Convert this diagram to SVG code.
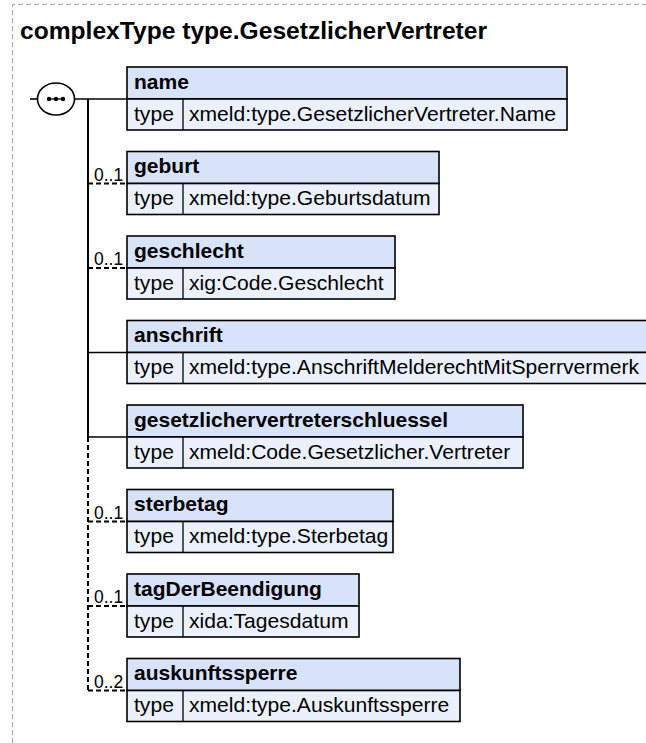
<svg xmlns="http://www.w3.org/2000/svg" width="646" height="743" viewBox="0 0 646 743">
<style>
.frame{fill:none;stroke:#a6a6a6;stroke-width:1;stroke-dasharray:5,3}
.title{font-family:"Liberation Sans",Arial,sans-serif;font-weight:bold;font-size:24.6px;fill:#000}
.hd{fill:#d6e3f8;stroke:#000;stroke-width:1.6}
.bd{fill:#eaf1fc;stroke:#000;stroke-width:1.6}
.div{stroke:#000;stroke-width:1.3;fill:none}
.nm{font-family:"Liberation Sans",Arial,sans-serif;font-weight:bold;font-size:21px;fill:#000}
.tx{font-family:"Liberation Sans",Arial,sans-serif;font-size:21.1px;fill:#000}
.occ{font-family:"Liberation Sans",Arial,sans-serif;font-size:17.5px;fill:#000}
.ln{stroke:#000;stroke-width:1.6;fill:none}
.dl{stroke:#000;stroke-width:2;fill:none;stroke-dasharray:5,3}
</style>
<rect x="0" y="0" width="646" height="743" fill="#fff"/>
<path class="frame" d="M12.5,743 V4.5 H646"/>
<text class="title" x="20" y="39">complexType type.GesetzlicherVertreter</text>

<g id="connectors">
<line class="ln" x1="30" y1="99" x2="38" y2="99"/>
<line class="ln" x1="74" y1="99" x2="127" y2="99"/>
<line x1="88" y1="99" x2="88" y2="437" stroke="#000" stroke-width="2"/>
<line class="dl" x1="88" y1="437" x2="88" y2="690.5"/>
<line class="dl" x1="88" y1="183.5" x2="127" y2="183.5"/>
<line class="dl" x1="88" y1="268" x2="127" y2="268"/>
<line class="ln" x1="88" y1="352.5" x2="127" y2="352.5"/>
<line class="ln" x1="88" y1="437" x2="127" y2="437"/>
<line class="dl" x1="88" y1="521.5" x2="127" y2="521.5"/>
<line class="dl" x1="88" y1="606" x2="127" y2="606"/>
<line class="dl" x1="88" y1="690.5" x2="127" y2="690.5"/>
<text class="occ" x="94" y="180.5">0..1</text>
<text class="occ" x="94" y="265">0..1</text>
<text class="occ" x="94" y="518.5">0..1</text>
<text class="occ" x="94" y="603">0..1</text>
<text class="occ" x="94" y="687.5">0..2</text>
</g>

<g id="sequence">
<ellipse cx="56" cy="99" rx="18.5" ry="16" fill="#fff" stroke="#000" stroke-width="1.6"/>
<line x1="47" y1="99" x2="65" y2="99" stroke="#000" stroke-width="1.3"/>
<circle cx="49" cy="99" r="2.2" fill="#000"/>
<circle cx="56" cy="99" r="2.2" fill="#000"/>
<circle cx="63" cy="99" r="2.2" fill="#000"/>
</g>

<g id="name">
<rect class="hd" x="127" y="67" width="440" height="32"/>
<rect class="bd" x="127" y="99" width="440" height="31"/>
<line class="div" x1="183" y1="99" x2="183" y2="130"/>
<text class="nm" x="134" y="88.5">name</text>
<text class="tx" x="134" y="120.5">type</text>
<text class="tx" x="189" y="120.5">xmeld:type.GesetzlicherVertreter.Name</text>
</g>

<g id="geburt">
<rect class="hd" x="127" y="151.5" width="312" height="32"/>
<rect class="bd" x="127" y="183.5" width="312" height="31"/>
<line class="div" x1="183" y1="183.5" x2="183" y2="214.5"/>
<text class="nm" x="134" y="173">geburt</text>
<text class="tx" x="134" y="205">type</text>
<text class="tx" x="189" y="205">xmeld:type.Geburtsdatum</text>
</g>

<g id="geschlecht">
<rect class="hd" x="127" y="236" width="268" height="32"/>
<rect class="bd" x="127" y="268" width="268" height="31"/>
<line class="div" x1="183" y1="268" x2="183" y2="299"/>
<text class="nm" x="134" y="257.5">geschlecht</text>
<text class="tx" x="134" y="289.5">type</text>
<text class="tx" x="189" y="289.5">xig:Code.Geschlecht</text>
</g>

<g id="anschrift">
<rect class="hd" x="127" y="320.5" width="521" height="32"/>
<rect class="bd" x="127" y="352.5" width="521" height="31"/>
<line class="div" x1="183" y1="352.5" x2="183" y2="383.5"/>
<text class="nm" x="134" y="342">anschrift</text>
<text class="tx" x="134" y="374">type</text>
<text class="tx" x="189" y="374">xmeld:type.AnschriftMelderechtMitSperrvermerk</text>
</g>

<g id="gesetzlichervertreterschluessel">
<rect class="hd" x="127" y="405" width="396" height="32"/>
<rect class="bd" x="127" y="437" width="396" height="31"/>
<line class="div" x1="183" y1="437" x2="183" y2="468"/>
<text class="nm" x="134" y="426.5">gesetzlichervertreterschluessel</text>
<text class="tx" x="134" y="458.5">type</text>
<text class="tx" x="189" y="458.5">xmeld:Code.Gesetzlicher.Vertreter</text>
</g>

<g id="sterbetag">
<rect class="hd" x="127" y="489.5" width="266" height="32"/>
<rect class="bd" x="127" y="521.5" width="266" height="31"/>
<line class="div" x1="183" y1="521.5" x2="183" y2="552.5"/>
<text class="nm" x="134" y="511">sterbetag</text>
<text class="tx" x="134" y="543">type</text>
<text class="tx" x="189" y="543">xmeld:type.Sterbetag</text>
</g>

<g id="tagDerBeendigung">
<rect class="hd" x="127" y="574" width="232" height="32"/>
<rect class="bd" x="127" y="606" width="232" height="31"/>
<line class="div" x1="183" y1="606" x2="183" y2="637"/>
<text class="nm" x="134" y="595.5">tagDerBeendigung</text>
<text class="tx" x="134" y="627.5">type</text>
<text class="tx" x="189" y="627.5">xida:Tagesdatum</text>
</g>

<g id="auskunftssperre">
<rect class="hd" x="127" y="658.5" width="333" height="32"/>
<rect class="bd" x="127" y="690.5" width="333" height="31"/>
<line class="div" x1="183" y1="690.5" x2="183" y2="721.5"/>
<text class="nm" x="134" y="680">auskunftssperre</text>
<text class="tx" x="134" y="712">type</text>
<text class="tx" x="189" y="712">xmeld:type.Auskunftssperre</text>
</g>
</svg>
